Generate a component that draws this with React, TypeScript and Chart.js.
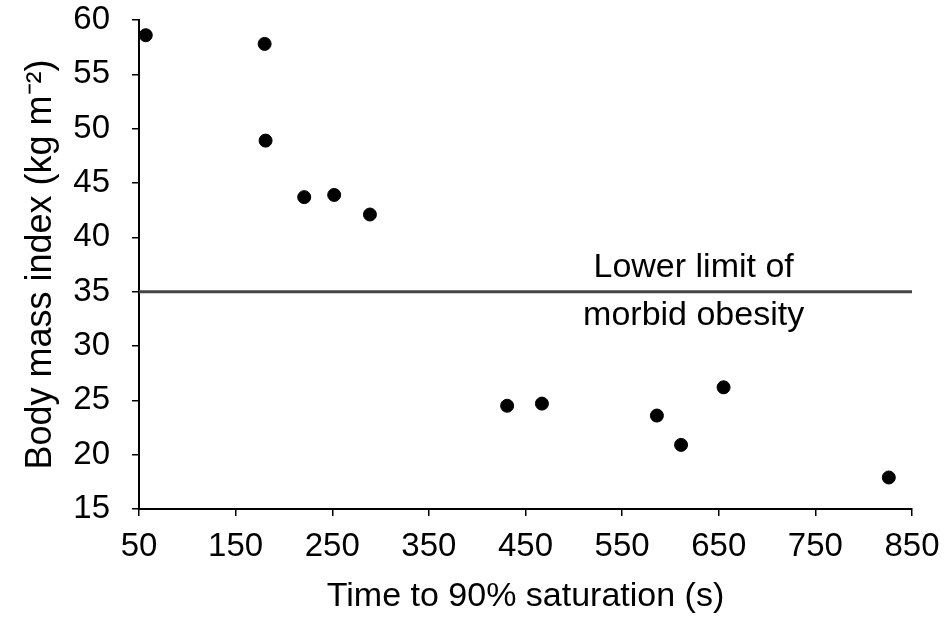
import React, { useEffect, useRef } from "react";
import { Chart, registerables } from "chart.js";

Chart.register(...registerables);

const timeToSaturation = [57, 180, 181, 221, 252, 289, 431, 467, 586, 611, 655, 826];
const bodyMassIndex = [58.6, 57.8, 48.9, 43.7, 43.9, 42.1, 24.5, 24.7, 23.6, 20.9, 26.2, 17.9];
const limitX = [50, 850];
const limitY = [35, 35];
const annotationLines = ["Lower limit of", "morbid obesity"];
const annotationX = 624;
const annotationY = [37.2, 32.8];

const FONT = "'Liberation Sans', Arial, Helvetica, sans-serif";

const annotationPlugin = {
  id: "annot",
  afterDatasetsDraw(chart: any) {
    const { ctx, scales } = chart;
    ctx.save();
    ctx.fillStyle = "#000";
    ctx.font = `34px ${FONT}`;
    ctx.textAlign = "center";
    ctx.textBaseline = "middle";
    annotationLines.forEach((t, i) => {
      ctx.fillText(t, scales.x.getPixelForValue(annotationX), scales.y.getPixelForValue(annotationY[i]));
    });
    ctx.restore();
  },
};

export default function App() {
  const ref = useRef<HTMLCanvasElement>(null);
  useEffect(() => {
    document.body.style.margin = "0";
    const chart = new Chart(ref.current!, {
      type: "scatter",
      data: {
        datasets: [
          {
            data: timeToSaturation.map((x, i) => ({ x, y: bodyMassIndex[i] })),
            backgroundColor: "#000",
            borderColor: "#000",
            pointRadius: 6.5,
            pointHoverRadius: 6.5,
            order: 0,
          },
          {
            data: limitX.map((x, i) => ({ x, y: limitY[i] })),
            showLine: true,
            borderColor: "#444",
            borderWidth: 3,
            pointRadius: 0,
            order: 1,
          } as any,
        ],
      },
      options: {
        animation: false,
        responsive: false,
        layout: { padding: { top: 20, right: 33, bottom: 0, left: 0 } },
        plugins: { legend: { display: false }, tooltip: { enabled: false } },
        scales: {
          x: {
            type: "linear",
            min: 50,
            max: 850,
            afterFit: (s: any) => { s.height = 112; s.paddingLeft = 0; s.paddingRight = 0; },
            ticks: { stepSize: 100, color: "#000", font: { family: FONT, size: 33 }, padding: 11, maxRotation: 0 },
            grid: { drawOnChartArea: false, drawTicks: true, tickLength: 7, color: "#000", lineWidth: 1.5 },
            border: { display: true, color: "#000", width: 2 },
            title: { display: true, text: "Time to 90% saturation (s)", color: "#000", font: { family: FONT, size: 34 }, padding: { top: 0, bottom: 4 } },
          },
          y: {
            type: "linear",
            min: 15,
            max: 60,
            afterFit: (s: any) => { s.width = 139; s.paddingTop = 0; s.paddingBottom = 0; },
            ticks: { stepSize: 5, color: "#000", font: { family: FONT, size: 33 }, padding: 22 },
            grid: { drawOnChartArea: false, drawTicks: true, tickLength: 7, color: "#000", lineWidth: 1.5 },
            border: { display: true, color: "#000", width: 2 },
            title: { display: true, text: "Body mass index (kg m\u207B\u00B2)", color: "#000", font: { family: FONT, size: 36 }, padding: { top: 19, bottom: 0 } },
          },
        },
      },
      plugins: [annotationPlugin],
    });
    return () => chart.destroy();
  }, []);
  return <canvas ref={ref} width={945} height={621} style={{ display: "block" }} />;
}
